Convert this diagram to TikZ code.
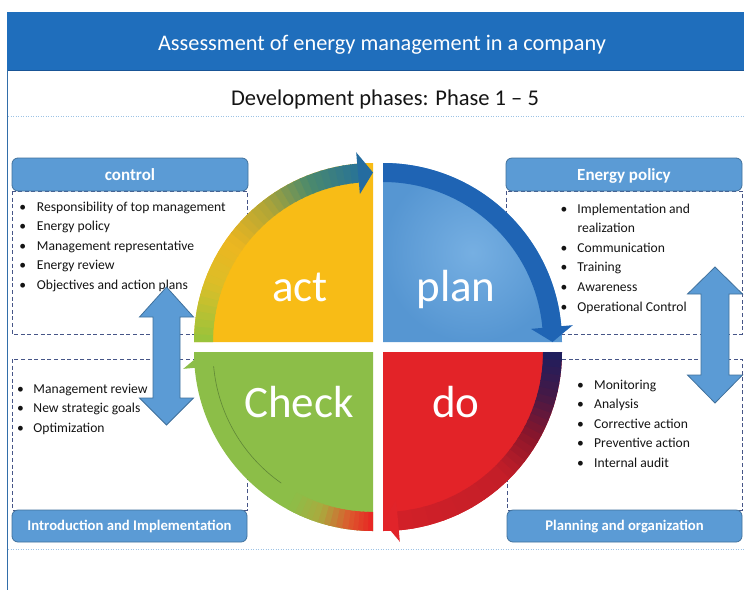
\documentclass[tikz,border=0pt]{standalone}
\usepackage{fontspec}
\setmainfont{Carlito}
\definecolor{bandblue}{RGB}{31,110,188}
\definecolor{bandline}{RGB}{25,85,150}
\definecolor{frameline}{RGB}{50,110,170}
\definecolor{hdrfill}{RGB}{91,155,213}
\definecolor{hdrline}{RGB}{65,113,156}
\definecolor{dashc}{RGB}{70,85,135}
\definecolor{dotc}{RGB}{157,195,230}
\definecolor{txt}{RGB}{20,20,20}
\definecolor{actY}{RGB}{248,188,22}
\definecolor{actA}{RGB}{150,195,60}
\definecolor{actB}{RGB}{220,190,40}
\definecolor{actC}{RGB}{236,182,32}
\definecolor{actD}{RGB}{175,165,55}
\definecolor{actE}{RGB}{75,138,108}
\definecolor{actF}{RGB}{40,115,150}
\definecolor{actH}{RGB}{36,108,160}
\definecolor{planB}{RGB}{86,150,210}
\definecolor{planBl}{RGB}{118,175,226}
\definecolor{planD}{RGB}{31,100,180}
\definecolor{doR}{RGB}{227,35,40}
\definecolor{doA}{RGB}{28,30,95}
\definecolor{doB}{RGB}{70,25,70}
\definecolor{doC}{RGB}{140,22,42}
\definecolor{doD}{RGB}{195,30,40}
\definecolor{doE}{RGB}{210,32,40}
\definecolor{doH}{RGB}{225,36,42}
\definecolor{chkG}{RGB}{140,190,72}
\definecolor{chkA}{RGB}{232,35,35}
\definecolor{chkB}{RGB}{220,90,45}
\definecolor{chkC}{RGB}{170,170,62}
\definecolor{chkL}{RGB}{60,90,40}
% gradient band segment: corner, start angle, end angle, colour A, colour B, steps
\newcommand\gband[6]{%
  \foreach \gi in {1,...,#6}{%
    \pgfmathsetmacro\ga{(#2)+((#3)-(#2))*(\gi-1)/#6}%
    \pgfmathsetmacro\gb{(#2)+((#3)-(#2))*\gi/#6-0.5}%
    \pgfmathtruncatemacro\gp{100*(\gi-0.5)/#6}%
    \fill[#5!\gp!#4] ([shift={#1}]\ga:160) arc[start angle=\ga,end angle=\gb,radius=160]
      -- ([shift={#1}]\gb:179) arc[start angle=\gb,end angle=\ga,radius=179] -- cycle;%
  }}
% arrow head: corner, base angle, tip angle, colour
\newcommand\ahead[4]{%
  \fill[#4] ([shift={#1}]#2:148.5) -- ([shift={#1}]#2:190.5) -- ([shift={#1}]#3:169.5) -- cycle;}
\begin{document}
\begin{tikzpicture}[x=1pt,y=-1pt,
  hdrtop/.style={draw=hdrline, line width=0.8pt, fill=hdrfill, rounded corners=6pt,
    minimum width=236pt, minimum height=33pt, inner sep=0pt, text=white,
    font=\bfseries\fontsize{17}{20}\selectfont, text height=11pt, text depth=0pt},
  hdrbot/.style={hdrtop, minimum width=235pt, minimum height=32pt,
    font=\bfseries\fontsize{14.7}{18}\selectfont, text height=9.4pt, text depth=0pt},
  dashbox/.style={draw=dashc, line width=0.9pt, dash pattern=on 4pt off 2.6pt},
  dotline/.style={draw=dotc, line width=1pt, dash pattern=on 1pt off 1.5pt},
  blist/.style={anchor=base west, inner sep=0pt, text=txt, font=\fontsize{13.6}{19.6}\selectfont},
  biglab/.style={anchor=base, inner sep=0pt, text=white, font=\fontsize{45}{50}\selectfont},
  darrow/.style={fill=hdrfill, draw=hdrline, line width=0.8pt, line join=miter}
]
\useasboundingbox (0,0) rectangle (744,590);
\fill[white] (0,0) rectangle (744,590);
% title band and frame
\fill[bandblue] (7,12) rectangle (744,70);
\draw[bandline, line width=1pt] (7,70) -- (744,70);
\draw[frameline, line width=1pt] (7,70) -- (7,590);
\node[anchor=base, inner sep=0pt, text=white, font=\fontsize{22.3}{26}\selectfont] (title) at (382,50) {Assessment of energy management in a company};
\node[anchor=base, inner sep=0pt, text=txt, font=\fontsize{22.5}{26}\selectfont] (subtitle) at (385,105) {Development phases: Phase 1 – 5};
\draw[dotline] (8,116) -- (744,116);
\draw[dotline] (8,549) -- (744,549);
% dashed boxes
\draw[dashbox] (12,191) rectangle (247,334);
\draw[dashbox] (12,359) rectangle (247,510);
\draw[dashbox] (506,191) rectangle (742,334);
\draw[dashbox] (507,359) rectangle (742,510);
% headers
\node[hdrtop] (control) at (130,174.5) {control};
\node[hdrtop] (policy) at (624,174.5) {Energy policy};
\node[hdrbot] (intro) at (129.5,526) {Introduction and Implementation};
\node[hdrbot] (planning) at (624.5,526) {Planning and organization};
% bullet lists
\node[blist] (listA) at (19.3,211) {\begin{tabular}[t]{@{}l@{}}
\makebox[17.4pt][l]{\textbullet}Responsibility of top management\\
\makebox[17.4pt][l]{\textbullet}Energy policy\\
\makebox[17.4pt][l]{\textbullet}Management representative\\
\makebox[17.4pt][l]{\textbullet}Energy review\\
\makebox[17.4pt][l]{\textbullet}Objectives and action plans
\end{tabular}};
\node[blist] (listB) at (16.9,393) {\begin{tabular}[t]{@{}l@{}}
\makebox[16.4pt][l]{\textbullet}Management review\\
\makebox[16.4pt][l]{\textbullet}New strategic goals\\
\makebox[16.4pt][l]{\textbullet}Optimization
\end{tabular}};
\node[blist] (listC) at (560.3,213) {\begin{tabular}[t]{@{}l@{}}
\makebox[17pt][l]{\textbullet}Implementation and\\
\makebox[17pt][l]{}realization\\
\makebox[17pt][l]{\textbullet}Communication\\
\makebox[17pt][l]{\textbullet}Training\\
\makebox[17pt][l]{\textbullet}Awareness\\
\makebox[17pt][l]{\textbullet}Operational Control
\end{tabular}};
\node[blist] (listD) at (576.9,389) {\begin{tabular}[t]{@{}l@{}}
\makebox[17.1pt][l]{\textbullet}Monitoring\\
\makebox[17.1pt][l]{\textbullet}Analysis\\
\makebox[17.1pt][l]{\textbullet}Corrective action\\
\makebox[17.1pt][l]{\textbullet}Preventive action\\
\makebox[17.1pt][l]{\textbullet}Internal audit
\end{tabular}};
% PDCA circle
\begin{scope}[shift={(378,347)}, yscale=-1]
  % act
  \fill[actY] (-5,5) -- ++(180:179) arc[start angle=180,end angle=90,radius=179] -- cycle;
  \gband{(-5,5)}{180}{160}{actA}{actB}{8}
  \gband{(-5,5)}{160}{145}{actB}{actC}{6}
  \gband{(-5,5)}{145}{128}{actC}{actD}{7}
  \gband{(-5,5)}{128}{112}{actD}{actE}{7}
  \gband{(-5,5)}{112}{95.07}{actE}{actF}{7}
  \ahead{(-5,5)}{95.07}{90}{actH}
  % plan
  \shade[inner color=planBl, outer color=planB] (5,5) -- ++(0:179) arc[start angle=0,end angle=90,radius=179] -- cycle;
  \fill[planD] (5,165) arc[start angle=90,end angle=4.5,radius=160] -- ([shift={(5,5)}]4.5:179) arc[start angle=4.5,end angle=90,radius=179] -- cycle;
  \ahead{(5,5)}{5.07}{0}{planD}
  % do
  \fill[doR] (5,-5) -- ++(-90:179) arc[start angle=-90,end angle=0,radius=179] -- cycle;
  \gband{(5,-5)}{0}{-15}{doA}{doB}{6}
  \gband{(5,-5)}{-15}{-30}{doB}{doC}{6}
  \gband{(5,-5)}{-30}{-45}{doC}{doD}{6}
  \gband{(5,-5)}{-45}{-84.93}{doD}{doE}{8}
  \ahead{(5,-5)}{-84.93}{-90}{doH}
  % check
  \fill[chkG] (-5,-5) -- ++(180:179) arc[start angle=180,end angle=270,radius=179] -- cycle;
  \gband{(-5,-5)}{-90}{-98}{chkA}{chkB}{5}
  \gband{(-5,-5)}{-98}{-108}{chkB}{chkC}{5}
  \gband{(-5,-5)}{-108}{-118}{chkC}{chkG}{5}
  \draw[chkL, line width=0.6pt, opacity=0.55] ([shift={(-5,-5)}]-175:160) arc[start angle=-175,end angle=-125,radius=160];
  \ahead{(-5,-5)}{-174.93}{-180}{chkG}
\end{scope}
% quadrant labels
\node[biglab] (act) at (300,301) {act};
\node[biglab] (plan) at (456,301) {plan};
\node[biglab] (check) at (299,417) {Check};
\node[biglab] (do) at (456,417) {do};
% double arrows
\draw[darrow] (166.5,287) -- (193.5,317) -- (180,317) -- (180,398) -- (193.5,398) -- (166.5,425)
  -- (139.5,398) -- (153,398) -- (153,317) -- (139.5,317) -- cycle;
\draw[darrow] (715,267) -- (742.5,294) -- (729,294) -- (729,375) -- (742.5,375) -- (715,403)
  -- (687.5,375) -- (701,375) -- (701,294) -- (687.5,294) -- cycle;
\end{tikzpicture}
\end{document}
